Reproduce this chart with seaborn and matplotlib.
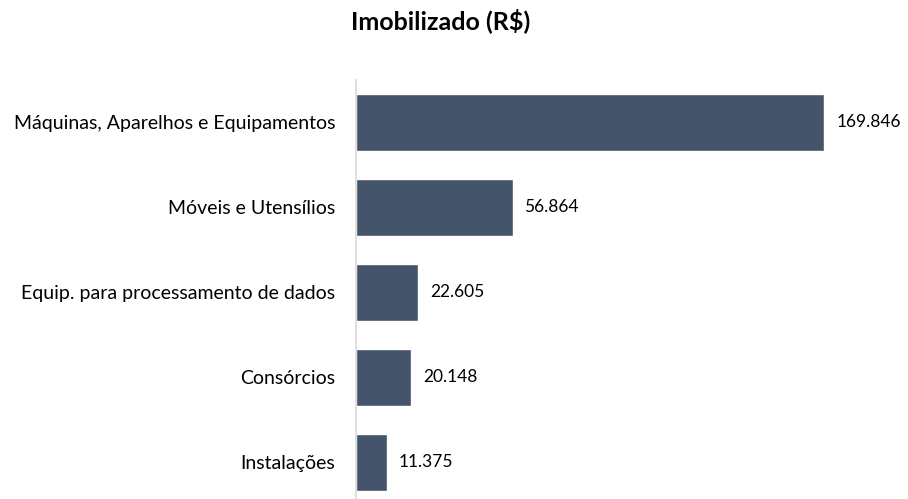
import matplotlib
matplotlib.use("Agg")
import matplotlib.pyplot as plt
import seaborn as sns
import pandas as pd

# Chart data
categorias = [
    "Máquinas, Aparelhos e Equipamentos",
    "Móveis e Utensílios",
    "Equip. para processamento de dados",
    "Consórcios",
    "Instalações",
]
valores = [169846, 56864, 22605, 20148, 11375]

df = pd.DataFrame({"categoria": categorias, "valor": valores})

sns.set_style("white")
plt.rcParams["font.family"] = ["Lato", "DejaVu Sans"]

fig = plt.figure(figsize=(9.08, 4.99), dpi=100)
ax = fig.add_axes([355.5 / 908, 0, 1 - 355.5 / 908, (499 - 80) / 499])

sns.barplot(data=df, x="valor", y="categoria", color="#44546A", width=0.67,
            saturation=1, ax=ax)

ax.set_xlim(0, 200100)
ax.set_ylim(4.43, -0.5)
ax.set_xlabel("")
ax.set_ylabel("")
ax.set_xticks([])
for s in ["top", "right", "bottom"]:
    ax.spines[s].set_visible(False)
ax.spines["left"].set_color("#D9D9D9")
ax.spines["left"].set_linewidth(1.2)
ax.tick_params(axis="y", length=0, pad=14.4, labelsize=14, labelcolor="#000000")

# value labels, Brazilian thousands separator
for i, v in enumerate(valores):
    ax.annotate(f"{v:,}".replace(",", "."), xy=(v, i), xytext=(8.6, 0),
                textcoords="offset points", va="center", ha="left",
                fontsize=12.5, color="#000000")

fig.text(440.5 / 908, 1 - 21 / 499, "Imobilizado (R$)", ha="center", va="center",
         fontsize=18, fontweight="bold", color="#000000")

fig.savefig("out.png", dpi=100)
